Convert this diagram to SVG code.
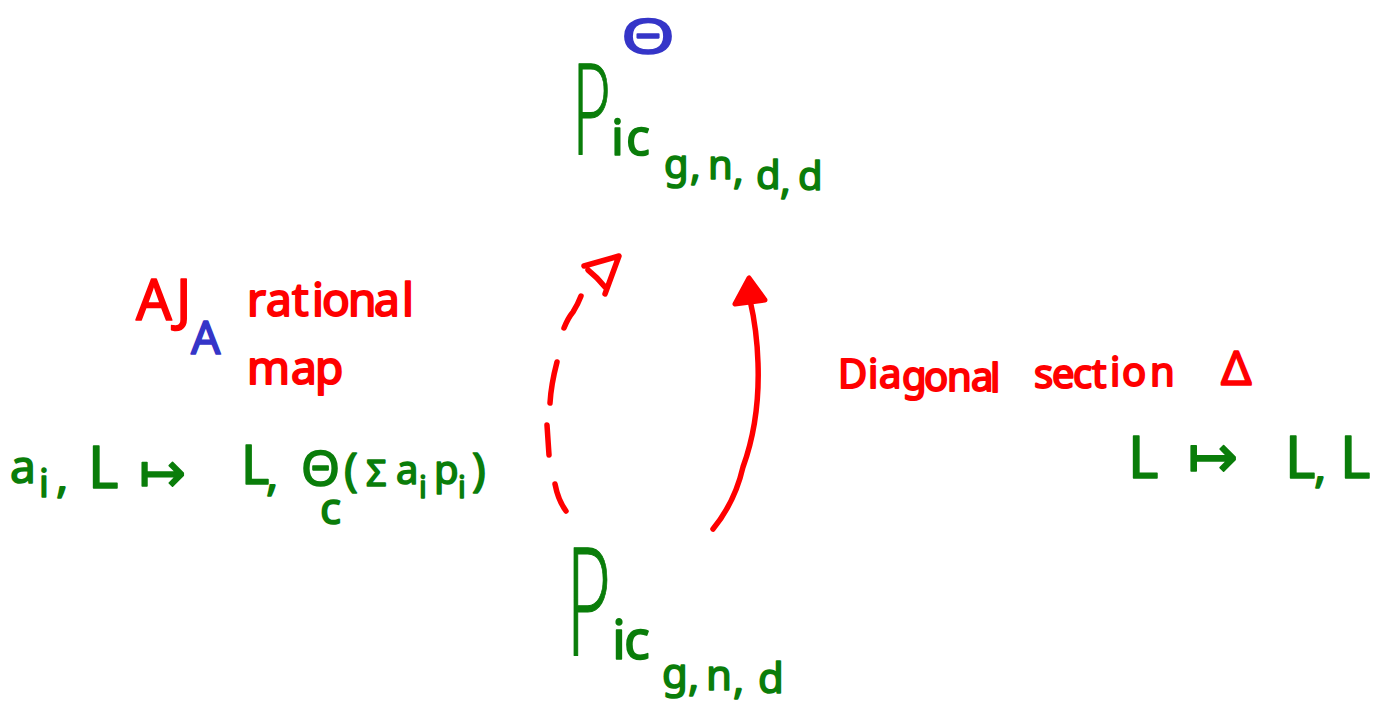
<svg xmlns="http://www.w3.org/2000/svg" width="1382" height="704" viewBox="0 0 1382 704">
<style>
text{font-family:"Noto Sans","DejaVu Sans",sans-serif;stroke-width:1.6;stroke-linejoin:round;stroke-linecap:round}
.g{fill:#0a7d0a;stroke:#0a7d0a}
.r{fill:#ff0000;stroke:#ff0000}
.b{fill:#3535c8;stroke:#3535c8}
.big{font-family:"Lato","Noto Sans",sans-serif;font-weight:300;stroke-width:1.2}
.pen{fill:none;stroke:#ff0000;stroke-width:5.5;stroke-linecap:round;stroke-linejoin:round}
</style>
<rect width="1382" height="704" fill="#ffffff"/>
<g id="connectors">
<path class="pen" d="M566 511Q558 500 555 484"/>
<path class="pen" d="M549 455Q548 440 547 425"/>
<path class="pen" d="M550 403Q551 385 557 362"/>
<path class="pen" d="M564 328Q568 318 573 312Q578 304 581 296"/>
<path class="pen" d="M584 266L619 256L605 294M605 287Q598 278 588 270"/>
<path class="pen" d="M713 529Q735 502 743 467Q760 420 758 363Q757 330 750 300"/>
<path d="M749 278L735 304L765 300Z" fill="#ff0000" stroke="#ff0000" stroke-width="5" stroke-linejoin="round"/>
</g>
<g id="node-theta-top"><text class="b" x="621" y="54" font-size="50" textLength="54" lengthAdjust="spacingAndGlyphs">Θ</text></g>
<g id="node-pic-top"><text class="g big" x="572" y="155" font-size="128" textLength="38" lengthAdjust="spacingAndGlyphs">P</text><text class="g" x="611 626" y="155" font-size="50">ic</text><text class="g" x="664 690 708 733 756 780 798" y="178 180 179 184 189 194 190" font-size="40">g,n,d,d</text></g>
<g id="node-pic-bottom"><text class="g big" x="566" y="655" font-size="152" textLength="44" lengthAdjust="spacingAndGlyphs">P</text><text class="g" x="612 624" y="659" font-size="54">ic</text><text class="g" x="662 688 706 733 758" y="688 691 690 694 693" font-size="42">g,n,d</text></g>
<g id="label-aj"><text class="r" x="136 176" y="320" font-size="56">AJ</text><text class="b" x="191" y="354" font-size="46">A</text></g>
<g id="label-rational"><text class="r" font-size="46" style="stroke-width:2"><tspan x="247 266 292 312 322 348 374 402" y="316">rational</tspan><tspan x="247 291 315" y="384">map</tspan></text></g>
<g id="label-left-formula"><text class="g" x="10" y="483" font-size="46">a</text><text class="g" x="39" y="497" font-size="38">i</text><text class="g" x="56" y="492" font-size="46">,</text><text class="g" x="88" y="488" font-size="58">L</text><text class="g" x="139" y="492" font-size="56" style="font-family:'DejaVu Sans'">↦</text><text class="g" x="241" y="484" font-size="54">L</text><text class="g" x="266" y="490" font-size="46">,</text><text class="g" x="301" y="486" font-size="50">Θ</text><text class="g" x="320" y="524" font-size="44">c</text><text class="g" x="344" y="486" font-size="46">(</text><text class="g" x="366" y="486" font-size="36">Σ</text><text class="g" x="396" y="484" font-size="40">a</text><text class="g" x="419" y="498" font-size="30">i</text><text class="g" x="434" y="484" font-size="40">p</text><text class="g" x="458" y="498" font-size="30">i</text><text class="g" x="472" y="486" font-size="46">)</text></g>
<g id="label-diagonal"><text class="r" font-size="40" style="stroke-width:2"><tspan x="838 868 879 902 924 947 971 990" y="388 388 388 390 391 391 391 392">Diagonal</tspan><tspan x="1034 1052 1073 1092 1110 1122 1150" y="388 388 388 388 386 386 386">section</tspan></text><text class="r" x="1221" y="385" font-size="48">Δ</text></g>
<g id="label-right-formula"><text class="g" x="1128" y="478" font-size="58">L</text><text class="g" x="1188" y="477" font-size="60" style="font-family:'DejaVu Sans'">↦</text><text class="g" x="1285" y="478" font-size="58">L</text><text class="g" x="1314" y="482" font-size="46">,</text><text class="g" x="1340" y="478" font-size="58">L</text></g>
</svg>
